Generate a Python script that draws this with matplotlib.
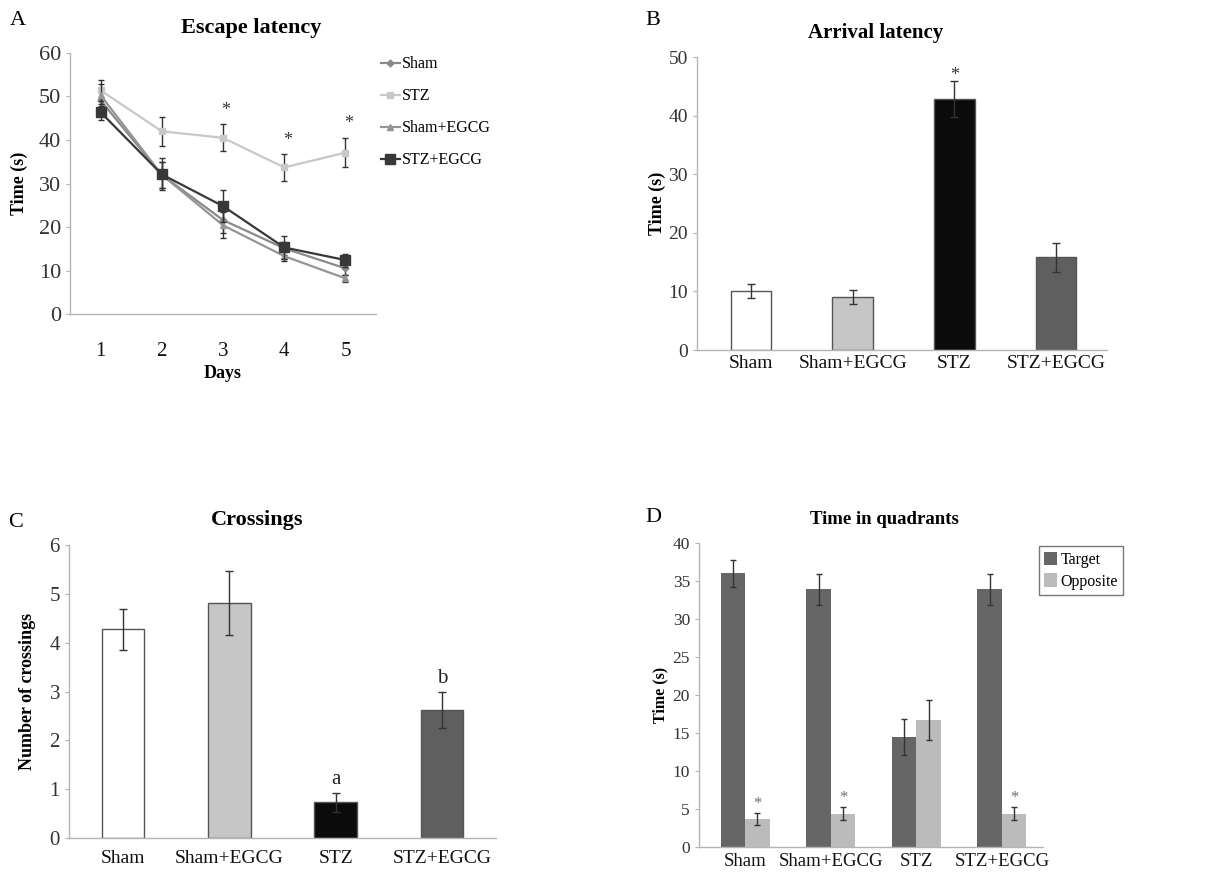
import matplotlib
matplotlib.use('Agg')
import matplotlib.pyplot as plt
import numpy as np

plt.rcParams['font.family'] = ['Liberation Serif', 'DejaVu Serif']

# Panel A - escape latency
days = [1, 2, 3, 4, 5]
sham = [49.1, 32.0, 21.6, 15.1, 10.5]
sham_err = [2.0, 3.0, 3.0, 1.5, 1.5]
stz = [51.4, 42.0, 40.5, 33.7, 37.1]
stz_err = [2.5, 3.3, 3.1, 3.1, 3.4]
sham_egcg = [50.3, 32.0, 20.4, 13.3, 8.2]
sham_egcg_err = [2.5, 3.0, 3.0, 1.0, 0.8]
stz_egcg = [46.4, 32.1, 24.8, 15.3, 12.4]
stz_egcg_err = [1.8, 3.7, 3.7, 2.6, 1.5]
star_days = [3, 4, 5]
star_y = [44.9, 37.9, 41.9]

# Panel B - arrival latency
groups_b = ['Sham', 'Sham+EGCG', 'STZ', 'STZ+EGCG']
arrival = [10.1, 9.0, 42.8, 15.8]
arrival_err = [1.2, 1.2, 3.1, 2.5]

# Panel C - crossings
groups_c = ['Sham', 'Sham+EGCG', 'STZ', 'STZ+EGCG']
crossings = [4.27, 4.81, 0.73, 2.63]
crossings_err = [0.42, 0.65, 0.20, 0.37]
cross_marks = ['', '', 'a', 'b']

# Panel D - time in quadrants
groups_d = ['Sham', 'Sham+EGCG', 'STZ', 'STZ+EGCG']
target = [36.0, 33.9, 14.5, 33.9]
target_err = [1.8, 2.0, 2.4, 2.0]
opposite = [3.7, 4.4, 16.7, 4.4]
opposite_err = [0.75, 0.8, 2.6, 0.8]
opp_stars = ['*', '*', '', '*']

bar_colors = ['white', '#c6c6c6', '#0b0b0b', '#5f5f5f']
spine_col = '#b5b5b5'
tick_col = '#333333'


def style_axis(ax):
    for s in ['top', 'right']:
        ax.spines[s].set_visible(False)
    for s in ['left', 'bottom']:
        ax.spines[s].set_color(spine_col)
        ax.spines[s].set_linewidth(1.0)
    ax.tick_params(axis='y', length=3, color=spine_col, labelcolor=tick_col)
    ax.tick_params(axis='x', length=0, labelcolor='#111111')


fig = plt.figure(figsize=(12.17, 8.73), dpi=100)

# ---- A ----
axA = fig.add_axes([0.0575, 0.6403, 0.2515, 0.299])
style_axis(axA)
series = [
    (sham, sham_err, '#8a8a8a', 'D', 3.5, 'Sham'),
    (stz, stz_err, '#c8c8c8', 's', 5, 'STZ'),
    (sham_egcg, sham_egcg_err, '#959595', '^', 5, 'Sham+EGCG'),
    (stz_egcg, stz_egcg_err, '#383838', 's', 6.5, 'STZ+EGCG'),
]
handles = []
for vals, errs, col, mk, ms, lab in series:
    axA.errorbar(days, vals, yerr=errs, fmt='none', ecolor='#333333', elinewidth=1, capsize=2.5)
    h, = axA.plot(days, vals, color=col, marker=mk, ms=ms, lw=1.6, label=lab)
    handles.append(h)
for d, y in zip(star_days, star_y):
    axA.text(d + 0.05, y, '*', ha='center', va='bottom', fontsize=13, color='#333333')
axA.set_xlim(0.5, 5.5)
axA.set_ylim(0, 60)
axA.set_xticks(days)
axA.set_yticks(range(0, 61, 10))
axA.tick_params(axis='y', labelsize=16)
axA.tick_params(axis='x', labelsize=15, pad=20)
axA.set_xlabel('Days', fontsize=13, fontweight='bold', labelpad=3)
axA.set_ylabel('Time (s)', fontsize=13, fontweight='bold', labelpad=8)
fig.text(251 / 1217, 1 - 28 / 873, 'Escape latency', fontsize=16, fontweight='bold', ha='center', va='center')
axA.legend(handles=handles, loc='upper left', bbox_to_anchor=(0.995, 1.012), frameon=False, fontsize=11.5,
           labelspacing=1.0, handlelength=1.2, handletextpad=0.1, borderaxespad=0)

# ---- B ----
axB = fig.add_axes([0.5727, 0.599, 0.3369, 0.3357])
style_axis(axB)
xb = np.arange(len(groups_b))
axB.bar(xb, arrival, width=0.4, color=bar_colors, edgecolor='#555555', linewidth=1)
axB.errorbar(xb, arrival, yerr=arrival_err, fmt='none', ecolor='#333333', elinewidth=1, capsize=3)
axB.text(xb[2], arrival[2] + arrival_err[2] - 0.5, '*', ha='center', va='bottom', fontsize=13, color='#333333')
axB.set_xlim(-0.53, 3.5)
axB.set_ylim(0, 50)
axB.set_xticks(xb)
axB.set_xticklabels(groups_b)
axB.tick_params(labelsize=14)
axB.set_ylabel('Time (s)', fontsize=13, fontweight='bold', labelpad=2)
fig.text(876 / 1217, 1 - 33 / 873, 'Arrival latency', fontsize=15, fontweight='bold', ha='center', va='center')

# ---- C ----
axC = fig.add_axes([0.0567, 0.0401, 0.3509, 0.3356])
style_axis(axC)
xc = np.arange(len(groups_c))
axC.bar(xc, crossings, width=0.4, color=bar_colors, edgecolor='#555555', linewidth=1)
axC.errorbar(xc, crossings, yerr=crossings_err, fmt='none', ecolor='#333333', elinewidth=1, capsize=3)
for x, v, e, m in zip(xc, crossings, crossings_err, cross_marks):
    if m:
        axC.text(x, v + e + 0.08, m, ha='center', va='bottom', fontsize=15, color='#222222')
axC.set_xlim(-0.51, 3.51)
axC.set_ylim(0, 6)
axC.set_xticks(xc)
axC.set_xticklabels(groups_c)
axC.tick_params(axis='y', labelsize=15)
axC.tick_params(axis='x', labelsize=14, pad=9)
axC.set_ylabel('Number of crossings', fontsize=13, fontweight='bold', labelpad=10)
fig.text(257 / 1217, 1 - 520 / 873, 'Crossings', fontsize=16, fontweight='bold', ha='center', va='center')

# ---- D ----
axD = fig.add_axes([0.5744, 0.0298, 0.2826, 0.3482])
style_axis(axD)
xd = np.arange(len(groups_d))
w = 0.286
axD.bar(xd - w / 2, target, width=w, color='#666666', label='Target')
axD.bar(xd + w / 2, opposite, width=w, color='#bbbbbb', label='Opposite')
axD.errorbar(xd - w / 2, target, yerr=target_err, fmt='none', ecolor='#333333', elinewidth=1, capsize=2.5)
axD.errorbar(xd + w / 2, opposite, yerr=opposite_err, fmt='none', ecolor='#333333', elinewidth=1, capsize=2.5)
for x, v, e, s in zip(xd, opposite, opposite_err, opp_stars):
    if s:
        axD.text(x + w / 2, v + e + 0.2, s, ha='center', va='bottom', fontsize=12, color='#667766')
axD.set_xlim(-0.54, 3.48)
axD.set_ylim(0, 40)
axD.set_xticks(xd)
axD.set_xticklabels(groups_d)
axD.set_yticks(range(0, 41, 5))
axD.tick_params(axis='y', labelsize=12.5)
axD.tick_params(axis='x', labelsize=13.5, pad=4)
axD.set_ylabel('Time (s)', fontsize=11.5, fontweight='bold', labelpad=3)
fig.text(884 / 1217, 1 - 520 / 873, 'Time in quadrants', fontsize=13.5, fontweight='bold', ha='center', va='center')
leg = axD.legend(loc='upper left', bbox_to_anchor=(0.988, 0.99), frameon=True, fontsize=11.5,
                 handlelength=0.8, handleheight=0.9, handletextpad=0.2, borderpad=0.35,
                 labelspacing=0.35, fancybox=False, borderaxespad=0)
leg.get_frame().set_edgecolor('#555555')
leg.get_frame().set_linewidth(1)

# panel letters
fig.text(0.008, 0.977, 'A', fontsize=16, va='center')
fig.text(0.530, 0.977, 'B', fontsize=16, va='center')
fig.text(0.007, 0.402, 'C', fontsize=16, va='center')
fig.text(0.530, 0.407, 'D', fontsize=16, va='center')

fig.savefig('out.png', dpi=100)
